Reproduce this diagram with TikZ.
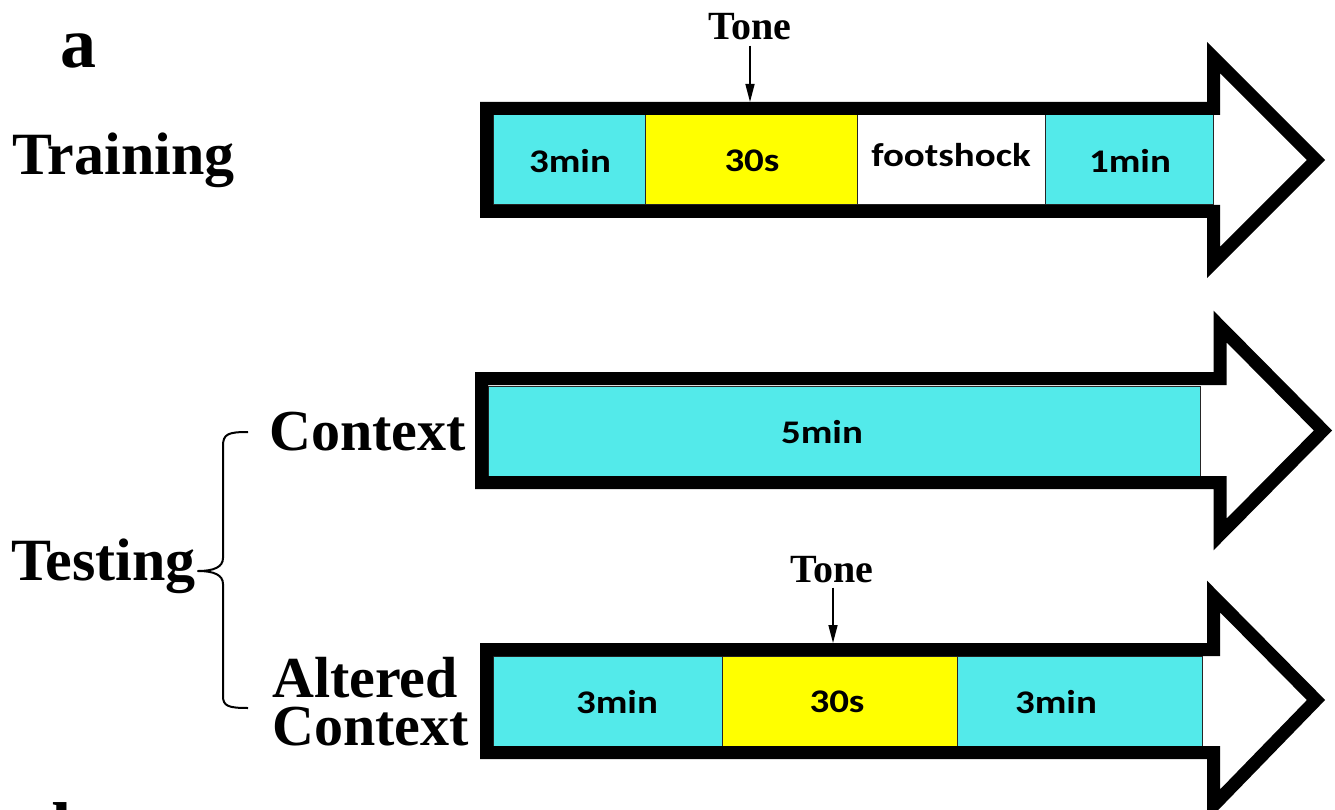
\documentclass[tikz,border=0pt]{standalone}
\usepackage{fontspec}
\setmainfont{Liberation Serif}
\newfontfamily\calib{Carlito}
\usetikzlibrary{arrows.meta}
\definecolor{segcyan}{RGB}{83,234,234}
\definecolor{segyellow}{RGB}{255,255,0}
\begin{document}
\begin{tikzpicture}[x=1pt,y=-1pt,
  outline/.style={line width=13pt, line join=miter, draw=black},
  seg/.style={draw=black!85, line width=1pt},
  cyanseg/.style={seg, fill=segcyan},
  yelseg/.style={seg, fill=segyellow},
  whiteseg/.style={seg, fill=white},
  seglabel/.style={inner sep=0pt, font=\calib\bfseries\fontsize{33}{33}\selectfont},
  lab/.style={inner sep=0pt, anchor=base west, font=\bfseries\fontsize{60}{60}\selectfont},
  ctxlab/.style={lab, font=\bfseries\fontsize{58}{58}\selectfont},
  biglab/.style={lab, font=\bfseries\fontsize{72}{72}\selectfont},
  tonelab/.style={inner sep=0pt, anchor=base, font=\bfseries\fontsize{40}{40}\selectfont},
  tonearrow/.style={line width=1.5pt, -{Triangle[length=18pt,width=9pt]}},
  brace/.style={line width=2pt, line join=round}
]
\useasboundingbox (0,0) rectangle (1335,810);
\fill[white] (0,0) rectangle (1335,810);
\clip (0,0) rectangle (1335,810);

% ---------- Training ----------
\node[biglab] (a) at (60,68) {a};
\node[lab] (training) at (12,175) {Training};

\draw[cyanseg]  (493,115) rectangle (645,205);
\draw[yelseg]   (645,115) rectangle (857,205);
\draw[whiteseg] (857,115) rectangle (1045,205);
\draw[cyanseg]  (1045,115) rectangle (1213,205);
\node[seglabel] (tr1) at (570,161) {\scalebox{1.18}[1]{3min}};
\node[seglabel] (tr2) at (752,161) {\scalebox{1.18}[1]{30s}};
\node[seglabel] (tr3) at (951,155) {\scalebox{1.18}[1]{footshock}};
\node[seglabel] (tr4) at (1130,161) {\scalebox{1.18}[1]{1min}};
\draw[outline] (486.5,108.5) -- (1213.5,108.5) -- (1213.5,57.5) -- (1316,160)
  -- (1213.5,262.5) -- (1213.5,211.5) -- (486.5,211.5) -- cycle;

\node[tonelab] (tone1) at (750,40) {Tone};
\coordinate (t1) at (750,102);
\draw[tonearrow] ([yshift=-5pt]tone1.south) -- (t1);

% ---------- Testing: Context ----------
\node[ctxlab] (context) at (269,450) {Context};
\draw[cyanseg] (488,386) rectangle (1200,476);
\node[seglabel] (c1) at (822,432) {\scalebox{1.18}[1]{5min}};
\draw[outline] (481.5,378.5) -- (1220,378.5) -- (1220,326.5) -- (1323,430.5)
  -- (1220,534.5) -- (1220,482.5) -- (481.5,482.5) -- cycle;

% ---------- Testing: Altered Context ----------
\node[ctxlab] (altered) at (272,697) {Altered};
\node[ctxlab] (altctx) at (272,745) {Context};
\draw[cyanseg] (493,656) rectangle (722,746);
\draw[yelseg]  (722,656) rectangle (957,746);
\draw[cyanseg] (957,656) rectangle (1202,746);
\node[seglabel] (al1) at (617,702) {\scalebox{1.18}[1]{3min}};
\node[seglabel] (al2) at (837,702) {\scalebox{1.18}[1]{30s}};
\node[seglabel] (al3) at (1056,702) {\scalebox{1.18}[1]{3min}};
\draw[outline] (486.5,649.5) -- (1213.5,649.5) -- (1213.5,596.5) -- (1316,700)
  -- (1213.5,805.5) -- (1213.5,752.5) -- (486.5,752.5) -- cycle;

\node[tonelab] (tone2) at (832,582) {Tone};
\coordinate (t2) at (833,643);
\draw[tonearrow] ([yshift=-5pt,xshift=1pt]tone2.south) -- (t2);

% ---------- Testing brace ----------
\node[lab] (testing) at (11,580) {Testing};
\draw[brace] (248,432) .. controls (228,432) and (223,434) .. (223,446)
  -- (223,558) .. controls (223,567) and (214,571) .. (198,571)
  .. controls (214,571) and (223,575) .. (223,584)
  -- (223,696) .. controls (223,706) and (228,708) .. (248,708);

% ---------- next panel label (cut off) ----------
\node[biglab] (b) at (52,852) {b};
\end{tikzpicture}
\end{document}
